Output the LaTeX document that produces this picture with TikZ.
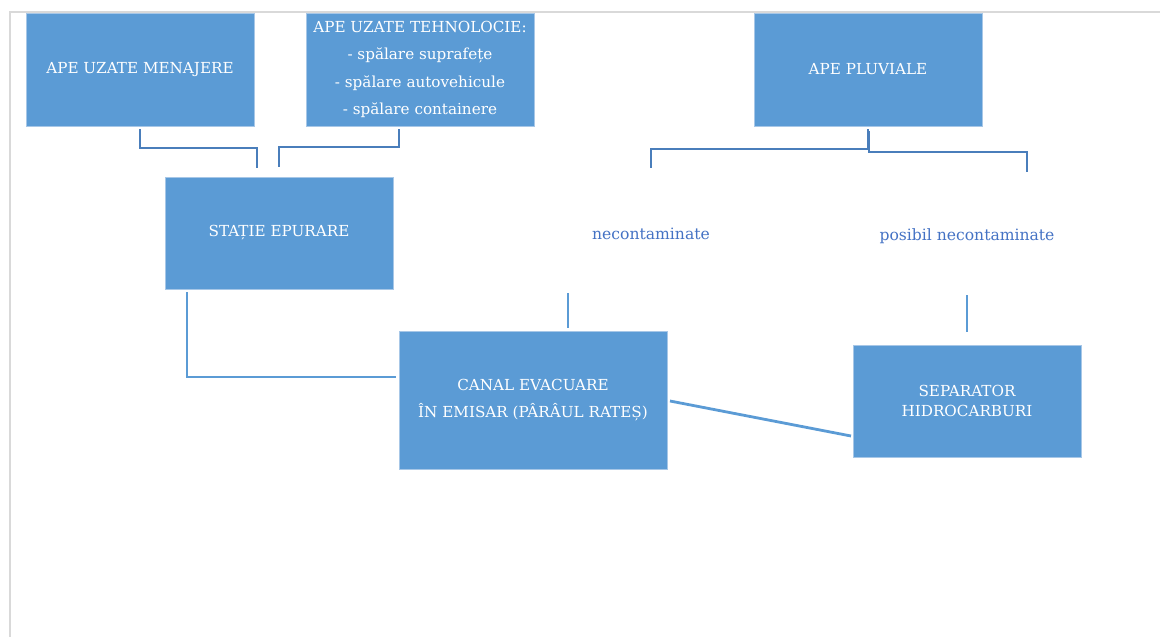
\documentclass[tikz,border=0pt]{standalone}
\usepackage{fontspec}
\setmainfont{DejaVu Serif}
\definecolor{boxblue}{HTML}{5B9BD5}
\definecolor{boxedge}{HTML}{A7C7E7}
\definecolor{linkdark}{HTML}{4A7EBB}
\definecolor{linklight}{HTML}{5B9BD5}
\definecolor{labelblue}{HTML}{4472C4}
\definecolor{pageedge}{HTML}{D9D9D9}
\begin{document}
\begin{tikzpicture}[x=1pt,y=-1pt,
  box/.style={rectangle, fill=boxblue, draw=boxedge, line width=0.8pt,
    minimum width=228pt, minimum height=113pt, inner sep=0pt,
    text=white, align=center, font=\fontsize{15.2}{27.5}\selectfont},
  tag/.style={text=labelblue, inner sep=0pt, font=\fontsize{15.6}{18}\selectfont},
  elbow/.style={draw=linkdark, line width=2.8pt},
  straight/.style={draw=linklight, line width=2.8pt}]
\useasboundingbox (0,0) rectangle (1160,637);

% page frame
\draw[pageedge, line width=2pt] (9.5,637) -- (9.5,11.5) -- (1160,11.5);

% boxes
\node[box] (men) at (140,69.5) {APE UZATE MENAJERE};
\node[box] (teh) at (420,69.5) {APE UZATE TEHNOLOCIE:\\- spălare suprafețe\\- spălare autovehicule\\- spălare containere};
\node[box] (pluv) at (868,69.5) {APE PLUVIALE};
\node[box, minimum height=112pt] (stat) at (279,233) {STAȚIE EPURARE};
\node[box, minimum width=268pt, minimum height=138pt] (canal) at (533,400)
  {CANAL EVACUARE\\ÎN EMISAR (PÂRÂUL RATEȘ)};
\node[box, minimum height=112pt, font=\fontsize{15.2}{20}\selectfont] (sep) at (967,401)
  {SEPARATOR\\HIDROCARBURI};

% labels
\node[tag] (nec) at (651,234) {necontaminate};
\node[tag] (pos) at (967,236) {posibil necontaminate};

% connector ends
\coordinate (m1) at (140,129);  \coordinate (m2) at (257,168);
\coordinate (t1) at (399,129);  \coordinate (t2) at (279,167);
\coordinate (p1) at (868,129);  \coordinate (p2) at (651,168);
\coordinate (p3) at (869,131);  \coordinate (p4) at (1027,172);
\coordinate (n1) at (568,293);  \coordinate (n2) at (568,328);
\coordinate (s1) at (967,295);  \coordinate (s2) at (967,332);
\coordinate (e1) at (187,292);  \coordinate (e2) at (396,377);
\coordinate (c1) at (670,401);  \coordinate (c2) at (851,436);

% connectors
\draw[elbow] (m1) |- (198,148) -| (m2);
\draw[elbow] (t1) |- (340,147) -| (t2);
\draw[elbow] (p1) |- (760,149) -| (p2);
\draw[elbow] (p3) |- (950,152) -| (p4);
\draw[straight] (n1) -- (n2);
\draw[straight] (s1) -- (s2);
\draw[straight] (e1) |- (e2);
\draw[straight] (c1) -- (c2);
\end{tikzpicture}
\end{document}
